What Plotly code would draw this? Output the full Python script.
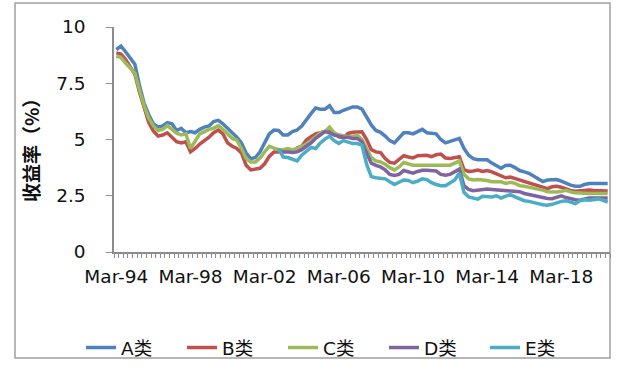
import plotly.graph_objects as go

# Quarterly yields (%) Mar-94 .. Sep-20
series_names = ["A类", "B类", "C类", "D类", "E类"]
colors = ["#4F81BD", "#C0504D", "#9BBB59", "#8064A2", "#4BACC6"]

A = [9.0, 9.15, 8.9, 8.6, 8.35, 7.4, 6.6, 6.1, 5.7, 5.55,
     5.6, 5.75, 5.7, 5.4, 5.5, 5.3, 5.35, 5.3, 5.45, 5.55,
     5.6, 5.8, 5.85, 5.7, 5.5, 5.35, 5.1, 4.85, 4.4, 4.15,
     4.2, 4.45, 4.85, 5.25, 5.42, 5.4, 5.2, 5.2, 5.35, 5.42,
     5.6, 5.9, 6.15, 6.4, 6.35, 6.35, 6.5, 6.2, 6.2, 6.3,
     6.38, 6.45, 6.45, 6.35, 6.0, 5.65, 5.4, 5.32, 5.15, 4.95,
     4.85, 5.05, 5.3, 5.3, 5.25, 5.35, 5.45, 5.3, 5.27, 5.25,
     5.0, 4.85, 4.92, 5.0, 5.05, 4.6, 4.3, 4.15, 4.1, 4.1,
     4.1, 3.95, 3.85, 3.72, 3.85, 3.86, 3.75, 3.62, 3.56, 3.5,
     3.38, 3.25, 3.13, 3.2, 3.22, 3.22, 3.15, 3.05, 2.97, 2.92,
     2.92, 3.0, 3.04, 3.04, 3.04, 3.04, 3.04]

B = [8.85, 8.8, 8.55, 8.25, 7.9, 7.1, 6.4, 5.75, 5.38, 5.15,
     5.2, 5.3, 5.1, 4.9, 4.85, 4.9, 4.45, 4.6, 4.8, 4.95,
     5.1, 5.3, 5.42, 5.25, 4.85, 4.7, 4.6, 4.4, 3.85, 3.65,
     3.68, 3.72, 3.92, 4.25, 4.45, 4.45, 4.5, 4.5, 4.45, 4.62,
     4.7, 4.98, 5.12, 5.25, 5.3, 5.36, 5.42, 5.28, 5.12, 5.08,
     5.27, 5.32, 5.34, 5.34, 5.0, 4.55, 4.45, 4.42, 4.15, 3.98,
     3.95, 4.12, 4.28, 4.22, 4.18, 4.28, 4.3, 4.3, 4.24, 4.32,
     4.35, 4.18, 4.16, 4.18, 4.23, 3.66, 3.58, 3.6, 3.64, 3.58,
     3.62, 3.56, 3.48, 3.4, 3.3, 3.33, 3.27, 3.18, 3.13, 3.08,
     3.02, 2.95, 2.88, 2.82, 2.9, 2.92, 2.88, 2.8, 2.74, 2.7,
     2.72, 2.75, 2.75, 2.73, 2.72, 2.71, 2.71]

C = [8.7, 8.65, 8.4, 8.15, 7.95, 7.2, 6.5, 5.95, 5.6, 5.4,
     5.45, 5.62, 5.45, 5.28, 5.2, 5.25, 4.6, 4.95, 5.25, 5.35,
     5.45, 5.5, 5.62, 5.45, 5.25, 5.05, 4.97, 4.6, 4.15, 4.0,
     4.0, 4.18, 4.45, 4.7, 4.62, 4.55, 4.55, 4.6, 4.55, 4.6,
     4.7, 4.8, 4.95, 5.15, 5.3, 5.35, 5.55, 5.3, 5.2, 5.17,
     5.12, 5.15, 5.19, 5.0, 4.6, 4.2, 4.05, 4.0, 3.9, 3.75,
     3.65, 3.78, 3.98, 3.9, 3.86, 3.86, 3.86, 3.86, 3.86, 3.86,
     3.86, 3.86, 3.86, 3.95, 4.05, 3.45, 3.25, 3.2, 3.22, 3.2,
     3.18, 3.12, 3.12, 3.12, 3.05, 3.1, 3.05, 2.95, 2.92, 2.88,
     2.85, 2.8, 2.75, 2.68, 2.67, 2.67, 2.7, 2.74, 2.68, 2.63,
     2.62, 2.6, 2.6, 2.6, 2.6, 2.6, 2.6]

# D and E begin in Dec-02 (index 35)
D = [None] * 35 + [
     4.5, 4.45, 4.45, 4.42, 4.45,
     4.55, 4.7, 4.85, 5.05, 5.2, 5.35, 5.3, 5.2, 5.15, 5.1,
     5.1, 5.05, 5.05, 4.9, 4.4, 3.95, 3.85, 3.78, 3.65, 3.45,
     3.4, 3.45, 3.62, 3.55, 3.5, 3.58, 3.63, 3.63, 3.63, 3.6,
     3.45, 3.41, 3.45, 3.56, 3.68, 2.95, 2.78, 2.72, 2.75, 2.78,
     2.8, 2.78, 2.76, 2.75, 2.72, 2.72, 2.7, 2.68, 2.6, 2.55,
     2.5, 2.45, 2.42, 2.38, 2.37, 2.45, 2.5, 2.42, 2.36, 2.32,
     2.3, 2.35, 2.4, 2.4, 2.4, 2.4, 2.4]

E = [None] * 35 + [
     4.6, 4.22, 4.2, 4.12, 4.05,
     4.3, 4.5, 4.65, 4.6, 4.85, 5.02, 5.15, 4.95, 4.82, 4.95,
     4.9, 4.82, 4.82, 4.75, 3.9, 3.35, 3.3, 3.28, 3.25, 3.12,
     3.0, 3.1, 3.2, 3.18, 3.08, 3.15, 3.25, 3.22, 3.08, 3.0,
     2.95, 2.95, 3.08, 3.2, 3.5, 2.65, 2.45, 2.38, 2.35, 2.48,
     2.45, 2.45, 2.5, 2.4, 2.48, 2.55, 2.45, 2.35, 2.28, 2.25,
     2.18, 2.15, 2.1, 2.08, 2.12, 2.2, 2.25, 2.28, 2.2, 2.15,
     2.28, 2.32, 2.3, 2.32, 2.36, 2.3, 2.22]

months = ["Mar", "Jun", "Sep", "Dec"]
quarters = [f"{months[i % 4]}-{(94 + i // 4) % 100:02d}" for i in range(len(A))]
x_idx = list(range(len(A)))

tick_idx = [0, 16, 32, 48, 64, 80, 96]
tick_labels = ["Mar-94", "Mar-98", "Mar-02", "Mar-06", "Mar-10", "Mar-14", "Mar-18"]

y_ticks = [0, 2.5, 5, 7.5, 10]
y_labels = ["0", "2.5", "5", "7.5", "10"]

FONT = "DejaVu Sans, Verdana, Noto Sans CJK SC, sans-serif"
FS = 18.5

fig = go.Figure()
for name, col, vals in zip(series_names, colors, [A, B, C, D, E]):
    fig.add_trace(go.Scatter(
        x=x_idx, y=vals, mode="lines", name=name,
        line=dict(color=col, width=3.5),
        text=quarters, hovertemplate="%{text}: %{y}<extra>" + name + "</extra>",
    ))

W, H = 640, 372
L, R, T, B_ = 114, 30, 27, 120
pw, ph = W - L - R, H - T - B_

def px_x(x):
    return (x - L) / pw

def px_y(y):
    return (H - B_ - y) / ph

fig.update_layout(
    width=W, height=H,
    margin=dict(l=L, r=R, t=T, b=B_, pad=0, autoexpand=False),
    paper_bgcolor="white", plot_bgcolor="white",
    font=dict(family=FONT, size=FS, color="#111"),
    showlegend=True,
    legend=dict(
        orientation="h", x=px_x(81), xanchor="left",
        y=px_y(348), yanchor="middle",
        entrywidth=56, entrywidthmode="pixels",
        font=dict(family=FONT, size=FS, color="#111"),
        bgcolor="rgba(0,0,0,0)", borderwidth=0,
        itemclick=False,
    ),
    xaxis=dict(
        range=[-0.5, len(A) - 0.5],
        tickmode="array", tickvals=tick_idx, ticktext=tick_labels,
        ticks="", showgrid=False, zeroline=False,
        showline=True, linecolor="#8c8c8c", linewidth=1.5,
        ticklabelstandoff=7, automargin=False,
        minor=dict(tickmode="linear", tick0=-0.5, dtick=1, ticks="outside",
                   ticklen=4, tickcolor="#8c8c8c", tickwidth=1, showgrid=False),
        tickfont=dict(family=FONT, size=FS, color="#111"),
        fixedrange=True,
    ),
    yaxis=dict(
        range=[0, 10],
        tickmode="array", tickvals=y_ticks, ticktext=y_labels,
        ticks="outside", ticklen=6, tickcolor="#8c8c8c", tickwidth=1,
        showgrid=False, zeroline=False,
        showline=True, linecolor="#8c8c8c", linewidth=1.5,
        ticklabelstandoff=17, automargin=False,
        tickfont=dict(family=FONT, size=FS, color="#111"),
        fixedrange=True,
    ),
)

# outer chart border
fig.add_shape(type="rect", xref="paper", yref="paper",
              x0=px_x(15), x1=px_x(610), y0=px_y(358), y1=px_y(3),
              line=dict(color="#a0a0a0", width=1.5), fillcolor="rgba(0,0,0,0)",
              layer="below")

fig.add_annotation(
    text="<b>收益率（%）</b>", textangle=-90,
    xref="paper", yref="paper", x=px_x(30), y=px_y(146),
    xanchor="center", yanchor="middle", showarrow=False,
    font=dict(family="Noto Sans CJK SC, DejaVu Sans, sans-serif", size=19, color="#111"),
)

fig.write_html("out.html", config={"displayModeBar": False},
               post_script="document.body.style.margin='0';")
